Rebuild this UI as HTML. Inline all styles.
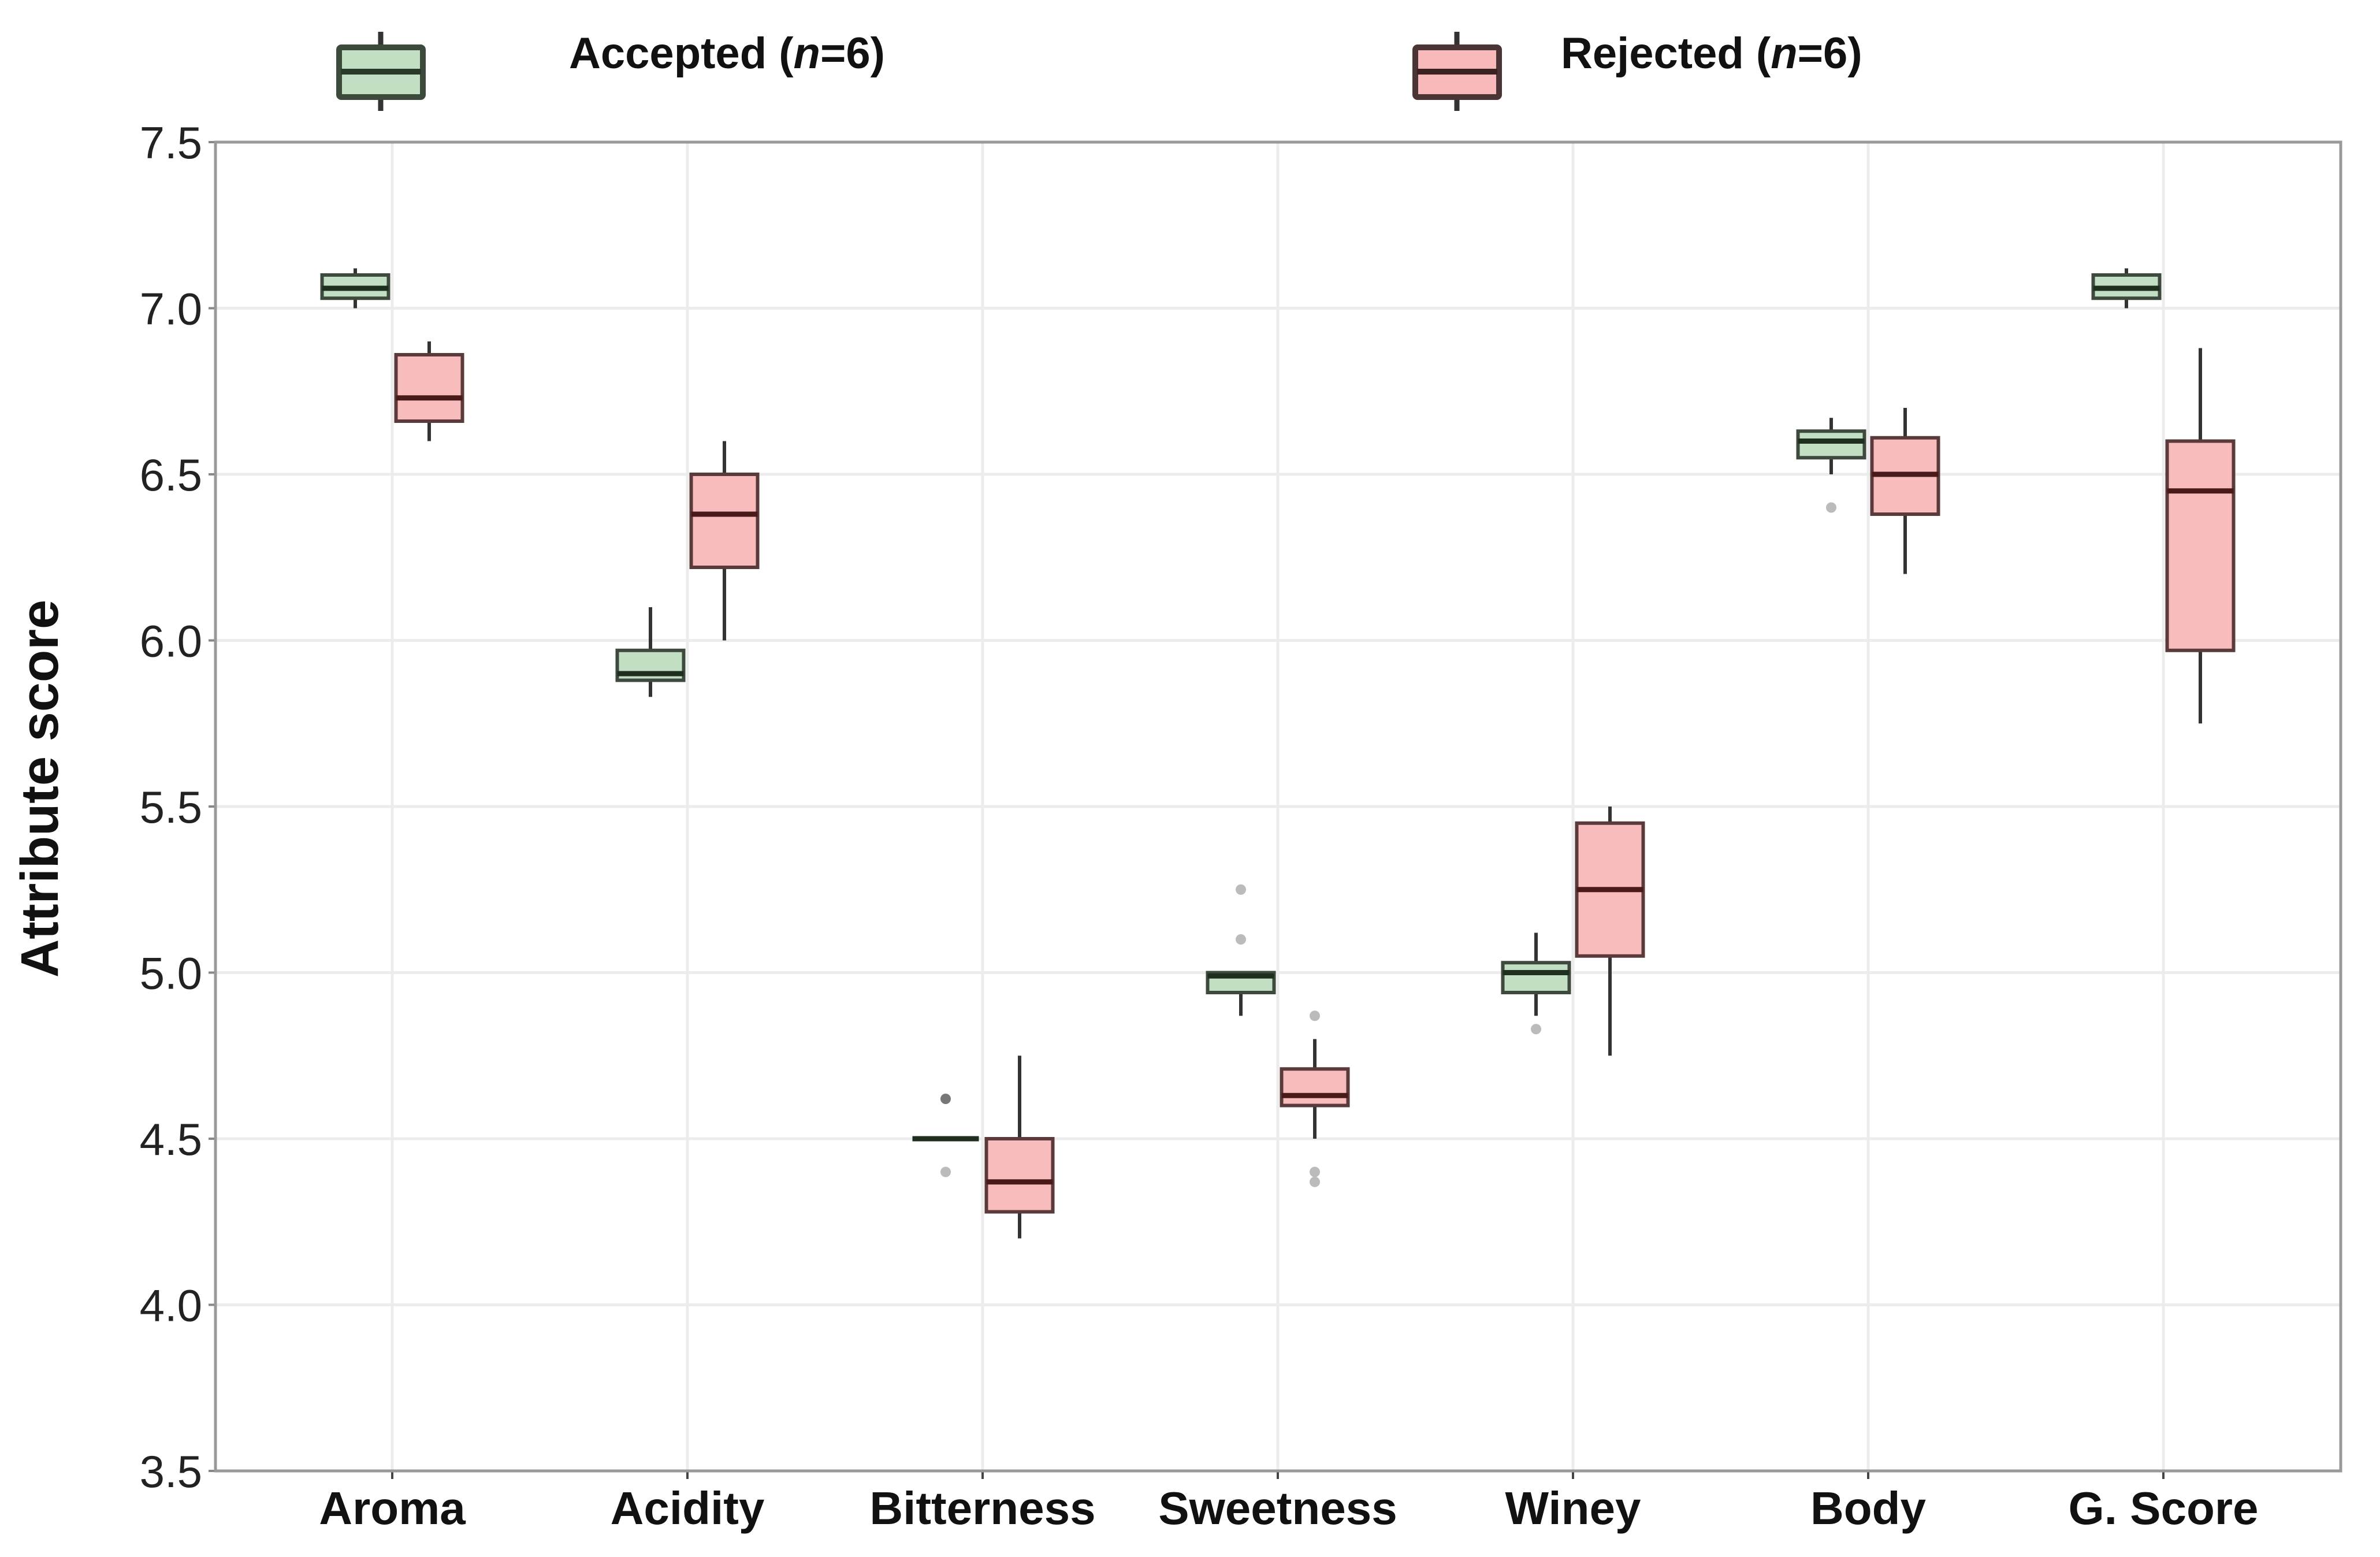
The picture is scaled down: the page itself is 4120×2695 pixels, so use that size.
<!DOCTYPE html>
<html><head><meta charset="utf-8"><style>
html,body{margin:0;padding:0;background:#fff;}
svg{display:block;font-family:"Liberation Sans",sans-serif;}
</style></head><body>
<svg id="chart" width="4120" height="2695" viewBox="0 0 4120 2695" xmlns="http://www.w3.org/2000/svg">
<g id="legend">
  <g>
    <line x1="659" y1="55" x2="659" y2="192" stroke="#333" stroke-width="9"/>
    <rect x="587" y="82" width="145" height="86" fill="#c3dfc3" stroke="#3c4a3c" stroke-width="10" rx="4"/>
    <line x1="590" y1="124" x2="729" y2="124" stroke="#2a3a2a" stroke-width="10"/>
    <text x="985" y="118" font-size="76" font-weight="bold" fill="#111">Accepted (<tspan font-style="italic">n</tspan>=6)</text>
  </g>
  <g>
    <line x1="2535" y1="55" x2="2535" y2="192" stroke="#333" stroke-width="9" transform="translate(-13,0)"/>
    <rect x="2450" y="82" width="145" height="86" fill="#f7b9b9" stroke="#4a3434" stroke-width="10" rx="4"/>
    <line x1="2453" y1="124" x2="2592" y2="124" stroke="#3a2020" stroke-width="10"/>
    <text x="2702" y="118" font-size="76" font-weight="bold" fill="#111">Rejected (<tspan font-style="italic">n</tspan>=6)</text>
  </g>
</g>
<g id="grid"></g>
<g id="axes"></g>
<g id="boxes"></g>
<text x="0" y="0" transform="translate(100,1365) rotate(-90)" text-anchor="middle" font-size="92" font-weight="bold" fill="#111">Attribute score</text>
</svg>
<script>
const categories = ["Aroma","Acidity","Bitterness","Sweetness","Winey","Body","G. Score"];
const yTicks = [3.5,4.0,4.5,5.0,5.5,6.0,6.5,7.0,7.5];
const yTickLabels = ["3.5","4.0","4.5","5.0","5.5","6.0","6.5","7.0","7.5"];
// [whiskerLow, q1, median, q3, whiskerHigh]
const acceptedStats = [
  [7.00,7.03,7.06,7.10,7.12],
  [5.83,5.88,5.90,5.97,6.10],
  [4.50,4.50,4.50,4.50,4.50],
  [4.87,4.94,4.99,5.00,5.00],
  [4.87,4.94,5.00,5.03,5.12],
  [6.50,6.55,6.60,6.63,6.67],
  [7.00,7.03,7.06,7.10,7.12]
];
const rejectedStats = [
  [6.60,6.66,6.73,6.86,6.90],
  [6.00,6.22,6.38,6.50,6.60],
  [4.20,4.28,4.37,4.50,4.75],
  [4.50,4.60,4.63,4.71,4.80],
  [4.75,5.05,5.25,5.45,5.50],
  [6.20,6.38,6.50,6.61,6.70],
  [5.75,5.97,6.45,6.60,6.88]
];
const acceptedOutliers = [[],[],[4.62,4.40],[5.25,5.10],[4.83],[6.40],[]];
const rejectedOutliers = [[],[],[],[4.87,4.40,4.37],[],[],[]];

const NS="http://www.w3.org/2000/svg";
const L=373,R=4052,T=246,B=2546,yMin=3.5,yMax=7.5;
const x0=679,step=511,off=64,bw=115;
function y(v){return B-(v-yMin)/(yMax-yMin)*(B-T);}
function xc(i){return x0+i*step;}
function mk(tag,attrs,parent){const e=document.createElementNS(NS,tag);for(const k in attrs)e.setAttribute(k,attrs[k]);parent.appendChild(e);return e;}
const grid=document.getElementById('grid'),axes=document.getElementById('axes'),boxes=document.getElementById('boxes');
yTicks.forEach((t,i)=>{
  const g=mk('line',{x1:L,x2:R,y1:y(t),y2:y(t),stroke:'#ececec','stroke-width':5},grid);
  
  
  const tk=mk('line',{x1:L-12,x2:L,y1:y(t),y2:y(t),stroke:'#888','stroke-width':4},axes);
  
  
  const tx=mk('text',{x:350,y:y(t)+28,'text-anchor':'end','font-size':78,fill:'#222'},axes);
  
  
  tx.textContent=yTickLabels[i];
});
categories.forEach((c,i)=>{
  const g=mk('line',{x1:xc(i),x2:xc(i),y1:T,y2:B,stroke:'#ececec','stroke-width':5},grid);
  
  
  const tk=mk('line',{x1:xc(i),x2:xc(i),y1:B,y2:B+14,stroke:'#444','stroke-width':4},axes);
  
  
  const tx=mk('text',{x:xc(i),y:2638,'text-anchor':'middle','font-size':80,'font-weight':'bold',fill:'#111'},axes);
  
  
  tx.textContent=c;
});
const frame=mk('rect',{x:L,y:T,width:R-L,height:B-T,fill:'none',stroke:'#999','stroke-width':5},axes);



function drawBox(stats,outs,i,dx,fill,stroke,med,name){
  const cx=xc(i)+dx;
  const g=mk('g',{},boxes);
  
  
  const [lo,q1,md,q3,hi]=stats;
  mk('line',{x1:cx,x2:cx,y1:y(hi),y2:y(lo),stroke:'#333','stroke-width':6},g);
  if(q3>q1){
    mk('rect',{x:cx-bw/2,y:y(q3),width:bw,height:y(q1)-y(q3),fill:fill,stroke:stroke,'stroke-width':6},g);
  }
  mk('line',{x1:cx-bw/2,x2:cx+bw/2,y1:y(md),y2:y(md),stroke:med,'stroke-width':9},g);
  outs.forEach((o,k)=>{
    const c=mk('circle',{cx:cx,cy:y(o),r:9,fill:(k===0&&name==='accepted'&&i===2)?'#777':'#bbb'},g);
    
    
  });
}
categories.forEach((c,i)=>{
  drawBox(acceptedStats[i],acceptedOutliers[i],i,-off,'#c3dfc3','#3f4a3f','#1f2f1f','accepted');
  drawBox(rejectedStats[i],rejectedOutliers[i],i,off,'#f9bcbc','#5a3a3a','#4a1a1a','rejected');
});
</script>
</body></html>
